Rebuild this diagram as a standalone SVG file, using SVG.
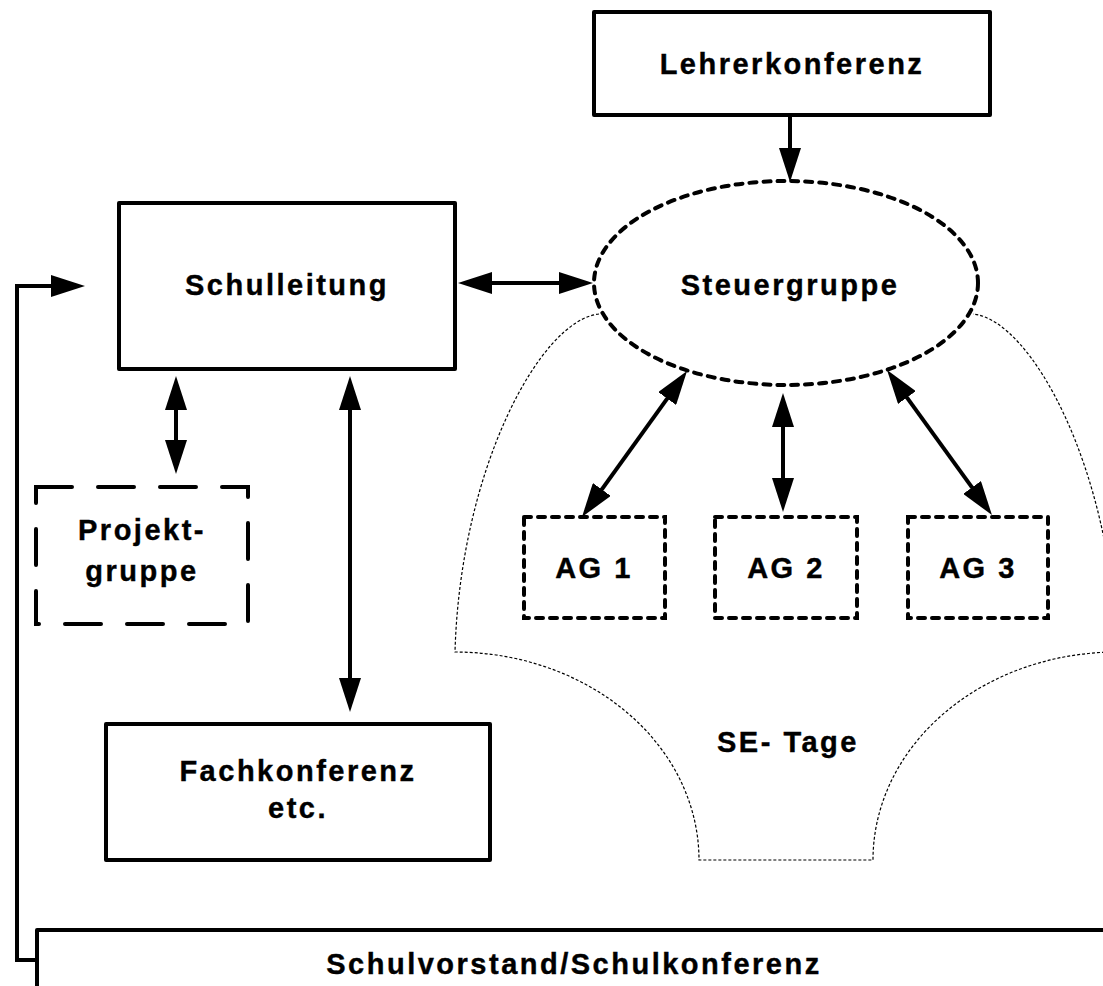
<svg xmlns="http://www.w3.org/2000/svg" width="1103" height="986" viewBox="0 0 1103 986">
<style>
text{font-family:"Liberation Sans",Arial,sans-serif;font-weight:bold;font-size:29px;fill:#000;stroke:#000;stroke-width:0.4;text-anchor:middle;letter-spacing:2.5px}
.box{fill:#fff;stroke:#000;stroke-width:4;stroke-linejoin:round}
.dot{fill:none;stroke:#000;stroke-width:4;stroke-dasharray:7 7;stroke-linecap:round}
.dash{fill:none;stroke:#000;stroke-width:4;stroke-dasharray:36 26;stroke-linecap:round}
.line{fill:none;stroke:#000;stroke-width:4}
.se{fill:none;stroke:#000;stroke-width:1.2;stroke-dasharray:3 2}
</style>
<defs>
<marker id="ah" viewBox="0 0 34 22" refX="24" refY="11" markerWidth="34" markerHeight="22" markerUnits="userSpaceOnUse" orient="auto-start-reverse">
<path d="M0,0 L34,11 L0,22 z" fill="#000"/>
</marker>
</defs>
<g id="se-tage">
<path class="se" d="M599,314 C540,320 460,470 455,652 A244,208 0 0 1 699,860 L873,860 A244,208 0 0 1 1117,652 C1112,470 1032,320 973,314"/>
<text x="788" y="752">SE- Tage</text>
</g>
<g id="lehrerkonferenz">
<rect class="box" x="594" y="12" width="396" height="103"/>
<text x="792" y="74">Lehrerkonferenz</text>
</g>
<g id="steuergruppe">
<ellipse class="dot" cx="786" cy="283" rx="192" ry="102"/>
<text x="790" y="295">Steuergruppe</text>
</g>
<g id="schulleitung">
<rect class="box" x="119" y="203" width="336" height="166"/>
<text x="287" y="295">Schulleitung</text>
</g>
<g id="projektgruppe">
<rect class="dash" x="36" y="487" width="212" height="137"/>
<text x="142" y="540">Projekt-</text>
<text x="142" y="581">gruppe</text>
</g>
<g id="fachkonferenz">
<rect class="box" x="106" y="724" width="384" height="136"/>
<text x="298" y="781">Fachkonferenz</text>
<text x="298" y="818">etc.</text>
</g>
<g id="ag1">
<rect class="dot" x="524" y="517" width="141" height="101"/>
<text x="594" y="578">AG 1</text>
</g>
<g id="ag2">
<rect class="dot" x="715" y="517" width="142" height="101"/>
<text x="786" y="578">AG 2</text>
</g>
<g id="ag3">
<rect class="dot" x="908" y="517" width="140" height="101"/>
<text x="978" y="578">AG 3</text>
</g>
<g id="schulvorstand">
<rect class="box" x="37" y="930" width="1080" height="80"/>
<text x="574" y="974">Schulvorstand/Schulkonferenz</text>
</g>
<g id="connectors">
<path class="line" d="M790,115 L790,172" marker-end="url(#ah)"/>
<path class="line" d="M468,283 L583,283" marker-start="url(#ah)" marker-end="url(#ah)"/>
<path class="line" d="M681.2,379.1 L587.8,508.9" marker-start="url(#ah)" marker-end="url(#ah)"/>
<path class="line" d="M783,403 L783,502" marker-start="url(#ah)" marker-end="url(#ah)"/>
<path class="line" d="M892.9,378.1 L986.1,506.9" marker-start="url(#ah)" marker-end="url(#ah)"/>
<path class="line" d="M176,386 L176,464" marker-start="url(#ah)" marker-end="url(#ah)"/>
<path class="line" d="M350,386 L350,702" marker-start="url(#ah)" marker-end="url(#ah)"/>
<path class="line" d="M37,960 L17,960 L17,286 L75,286" marker-end="url(#ah)"/>
</g>
</svg>
